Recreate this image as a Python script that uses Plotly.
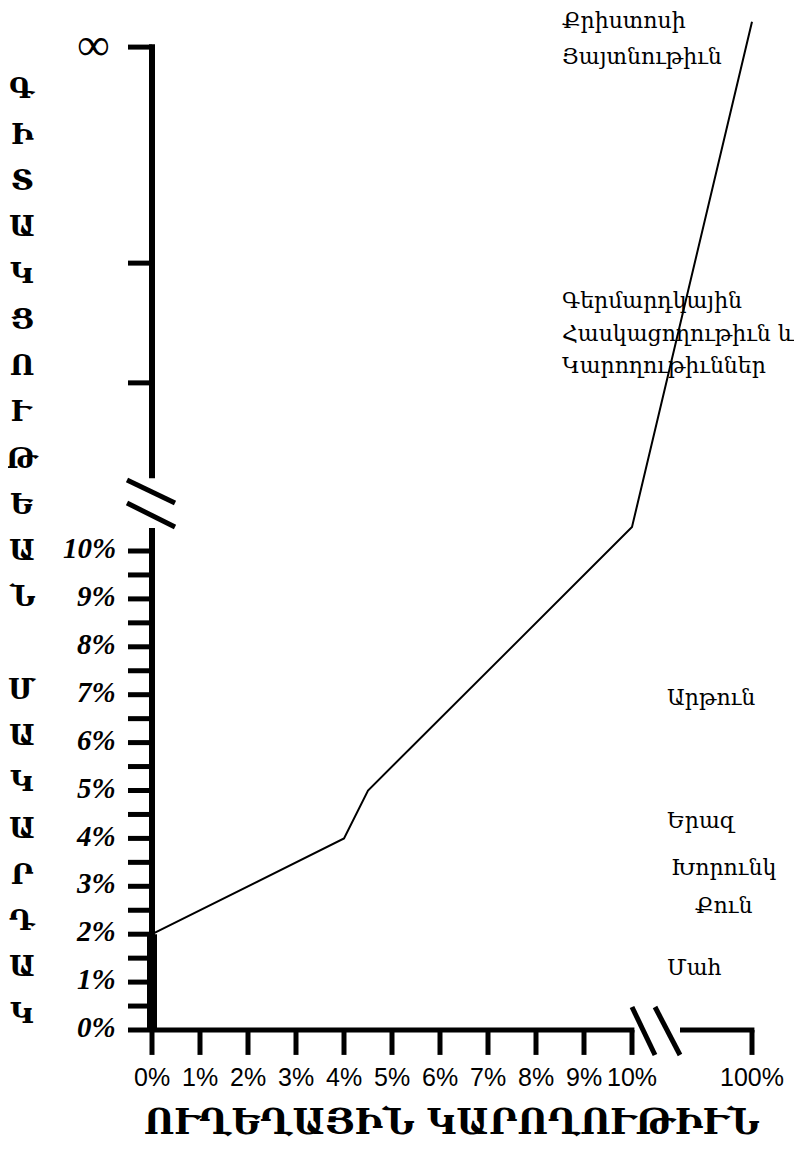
import plotly.graph_objects as go

# ---------------- data ----------------
# x: ultimate capacity (%); y: consciousness level.
# Above the axis break the y scale is symbolic (upper ticks, top tick = infinity).
curve_x = [0, 0, 4, 4.5, 10, 100]
curve_y = [0, 2, 4, 5, 10.5, 21.05]

x_tick_vals = [0, 1, 2, 3, 4, 5, 6, 7, 8, 9, 10, 100]
x_tick_labels = ["0%", "1%", "2%", "3%", "4%", "5%", "6%", "7%", "8%", "9%", "10%", "100%"]

y_tick_vals = [0, 1, 2, 3, 4, 5, 6, 7, 8, 9, 10]
y_tick_labels = ["0%", "1%", "2%", "3%", "4%", "5%", "6%", "7%", "8%", "9%", "10%"]
y_minor_vals = [0.5, 1.5, 2.5, 3.5, 4.5, 5.5, 6.5, 7.5, 8.5, 9.5]
y_upper_ticks = [13.51, 16.01, 20.52]
y_upper_labels = ["", "", "∞"]

state_labels = ["Քրիստոսի", "Յայտնութիւն",
                "Գերմարդկային", "Հասկացողութիւն և", "Կարողութիւններ",
                "Արթուն", "Երազ", "Խորունկ", "Քուն", "Մահ"]

x_title = "ՈՒՂԵՂԱՅԻՆ ԿԱՐՈՂՈՒԹԻՒՆ"
y_title = "ԳԻՏԱԿՑՈՒԹԵԱՆ ՄԱԿԱՐԴԱԿ"

# ---------------- layout helpers ----------------
W, H = 802, 1150
OFF = 8                   # page body margin
X0, XS = 152.0, 48.0      # page pixel of x=0, pixels per unit
Y0, YS = 1030.0, 47.9     # page pixel of y=0, pixels per unit


def xmap(v):
    # broken x axis: 0..10 linear, 10..100 compressed
    return v if v <= 10 else 10 + (v - 10) * (2.5 / 90)


def px_x(p):
    return (p - X0) / XS


def px_y(p):
    return (Y0 - p) / YS


fig = go.Figure()


def seg_trace(xs, ys, width):
    fig.add_trace(go.Scatter(x=xs, y=ys, mode="lines",
                             line=dict(color="black", width=width),
                             hoverinfo="skip", showlegend=False))


# axis lines
seg_trace([0, 0], [0, 10.48], 6)
seg_trace([0, 0], [11.52, 20.52 + 0.06], 6)
seg_trace([0, 10.05], [0, 0], 5)
seg_trace([11.0, 12.5 + 0.05], [0, 0], 5)

# y ticks
tx, ty = [], []
for v in y_tick_vals + y_minor_vals + y_upper_ticks:
    tx += [-0.5, 0, None]
    ty += [v, v, None]
seg_trace(tx, ty, 5)

# x ticks
tx, ty = [], []
for v in x_tick_vals:
    xv = xmap(v)
    tx += [xv, xv, None]
    ty += [0, -0.52, None]
seg_trace(tx, ty, 5)

# break marks
seg_trace([px_x(127), px_x(175), None, px_x(127), px_x(175)],
          [px_y(480), px_y(503), None, px_y(503), px_y(527)], 5)
seg_trace([px_x(632), px_x(655), None, px_x(655), px_x(680)],
          [px_y(1007), px_y(1055), None, px_y(1007), px_y(1055)], 5)

# the curve
fig.add_trace(go.Scatter(x=[xmap(v) for v in curve_x], y=curve_y, mode="lines",
                         line=dict(color="black", width=2),
                         hoverinfo="skip", showlegend=False))
# thick start segment along the axis
fig.add_trace(go.Scatter(x=[xmap(v) for v in curve_x[:2]], y=curve_y[:2], mode="lines",
                         line=dict(color="black", width=10),
                         hoverinfo="skip", showlegend=False))

ann = []
# y tick labels
for v, t in zip(y_tick_vals, y_tick_labels):
    ann.append(dict(x=px_x(118), y=v + 0.06, xref="x", yref="y", text=t, showarrow=False,
                    xanchor="right", yanchor="middle",
                    font=dict(family="Liberation Serif", size=29, color="black",
                              weight="bold", style="italic")))
for v, t in zip(y_upper_ticks, y_upper_labels):
    if t:
        ann.append(dict(x=px_x(112), y=v + 0.05, xref="x", yref="y", text=t, showarrow=False,
                        xanchor="right", yanchor="middle",
                        font=dict(family="Liberation Serif", size=46, color="black")))
# x tick labels
for v, t in zip(x_tick_vals, x_tick_labels):
    ann.append(dict(x=xmap(v), y=px_y(1077), xref="x", yref="y", text=t, showarrow=False,
                    xanchor="center", yanchor="middle",
                    font=dict(family="Liberation Sans", size=25, color="black")))

# state labels
label_pos = [(560, 20, "left"), (560, 56, "left"),
             (560, 300, "left"), (560, 333, "left"), (560, 365, "left"),
             (665, 697, "left"), (665, 820, "left"), (723, 867, "center"),
             (723, 905, "center"), (665, 967, "left")]
for t, (px, py, anc) in zip(state_labels, label_pos):
    ann.append(dict(x=px_x(px), y=px_y(py), xref="x", yref="y", text=t, showarrow=False,
                    xanchor=anc, yanchor="middle",
                    font=dict(family="DejaVu Serif", size=22, color="black")))

# x title
ann.append(dict(x=px_x(452), y=px_y(1121), xref="x", yref="y", text=x_title, showarrow=False,
                xanchor="center", yanchor="middle",
                font=dict(family="DejaVu Serif", size=35, color="black", weight="bold")))

# y title, one letter per line
slot = 0
for ch in y_title:
    if ch != " ":
        ann.append(dict(x=px_x(22), y=px_y(88 + 46.25 * slot), xref="x", yref="y", text=ch,
                        showarrow=False, xanchor="center", yanchor="middle",
                        font=dict(family="DejaVu Serif", size=28, color="black",
                                  weight="bold")))
    slot += 1

fig.update_layout(
    width=W, height=H,
    margin=dict(l=0, r=0, t=0, b=0),
    paper_bgcolor="white", plot_bgcolor="white",
    template="none",
    showlegend=False,
    annotations=ann,
    xaxis=dict(visible=False, range=[px_x(OFF), px_x(OFF + W)], fixedrange=True),
    yaxis=dict(visible=False, range=[px_y(OFF + H), px_y(OFF)], fixedrange=True),
)

fig.write_html("out.html")
